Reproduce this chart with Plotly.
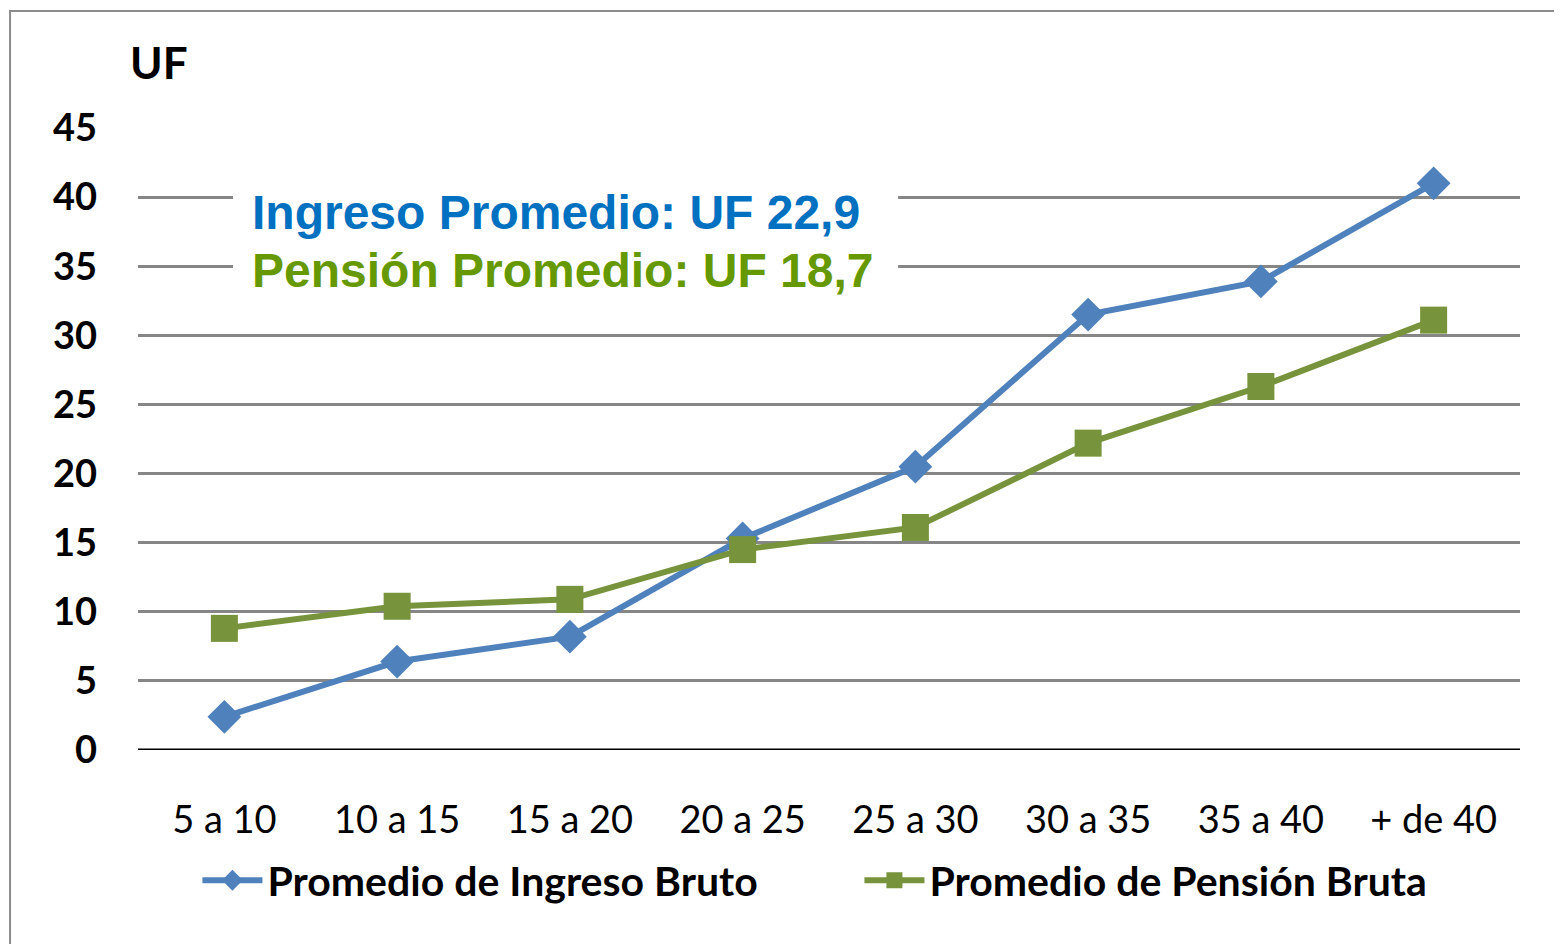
import plotly.graph_objects as go

categories = ["5 a 10", "10 a 15", "15 a 20", "20 a 25", "25 a 30", "30 a 35", "35 a 40", "+ de 40"]
ingreso = [2.4, 6.4, 8.2, 15.3, 20.5, 31.5, 33.9, 41.0]
pension = [8.8, 10.4, 10.9, 14.5, 16.1, 22.2, 26.3, 31.1]
y_ticks = [0, 5, 10, 15, 20, 25, 30, 35, 40, 45]

BLUE = "#4F81BD"
GREEN = "#77933C"
CALIBRI = "Lato, Carlito, Calibri, sans-serif"

fig = go.Figure()

fig.add_trace(go.Scatter(
    x=categories, y=ingreso, name="Promedio de Ingreso Bruto",
    mode="lines+markers",
    line=dict(color=BLUE, width=6),
    marker=dict(symbol="diamond", size=26, color=BLUE),
))
fig.add_trace(go.Scatter(
    x=categories, y=pension, name="Promedio de Pensión Bruta",
    mode="lines+markers",
    line=dict(color=GREEN, width=6),
    marker=dict(symbol="square", size=27, color=GREEN),
))

# white box behind the averages text, hides the gridlines
fig.add_shape(type="rect", xref="x", yref="y", x0=0.05, x1=3.9, y0=30.8, y1=42.5,
              fillcolor="white", line=dict(width=0), layer="above")
fig.add_annotation(text="<b>Ingreso Promedio: UF 22,9</b>", xref="x", yref="y",
                   x=0.15, y=38.9, xanchor="left", yanchor="middle", showarrow=False,
                   font=dict(family="Liberation Sans, Arial", size=48, color="#0070C0"))
fig.add_annotation(text="<b>Pensión Promedio: UF 18,7</b>", xref="x", yref="y",
                   x=0.15, y=34.7, xanchor="left", yanchor="middle", showarrow=False,
                   font=dict(family="Liberation Sans, Arial", size=48, color="#669900"))

fig.add_annotation(text="<b>UF</b>", xref="paper", yref="paper", x=-0.007, y=1.106,
                   xanchor="left", yanchor="middle", showarrow=False,
                   font=dict(family=CALIBRI, size=44, color="black"))

# outer chart border
fig.add_shape(type="rect", xref="paper", yref="paper", x0=-0.0926, x1=1.2, y0=-0.5, y1=1.188,
              line=dict(color="#8C8C8C", width=2), fillcolor="rgba(0,0,0,0)")

fig.update_layout(
    width=1562, height=944,
    margin=dict(l=130, r=50, t=120, b=202),
    plot_bgcolor="white", paper_bgcolor="white",
    font=dict(family=CALIBRI, color="black"),
    showlegend=True,
    legend=dict(orientation="h", x=0.043, xanchor="left", y=-0.21, yanchor="middle",
                font=dict(family=CALIBRI, size=41, color="black", weight="bold"),
                itemwidth=60, entrywidth=587, tracegroupgap=0),
)
fig.update_xaxes(
    type="category", range=[-0.5, 7.5], showgrid=False,
    tickfont=dict(family=CALIBRI, size=38, color="black"),
    ticks="", ticklabelstandoff=44, showline=False, zeroline=False,
)
fig.update_yaxes(
    range=[0, 45], tickvals=y_ticks, showgrid=True, gridcolor="#868686", gridwidth=2.5,
    tickfont=dict(family=CALIBRI, size=38, color="black", weight="bold"),
    ticks="", ticklabelstandoff=40, zeroline=False,
    showline=False,
)
fig.add_hline(y=0, line=dict(color="black", width=3))

fig.write_html("out.html")
